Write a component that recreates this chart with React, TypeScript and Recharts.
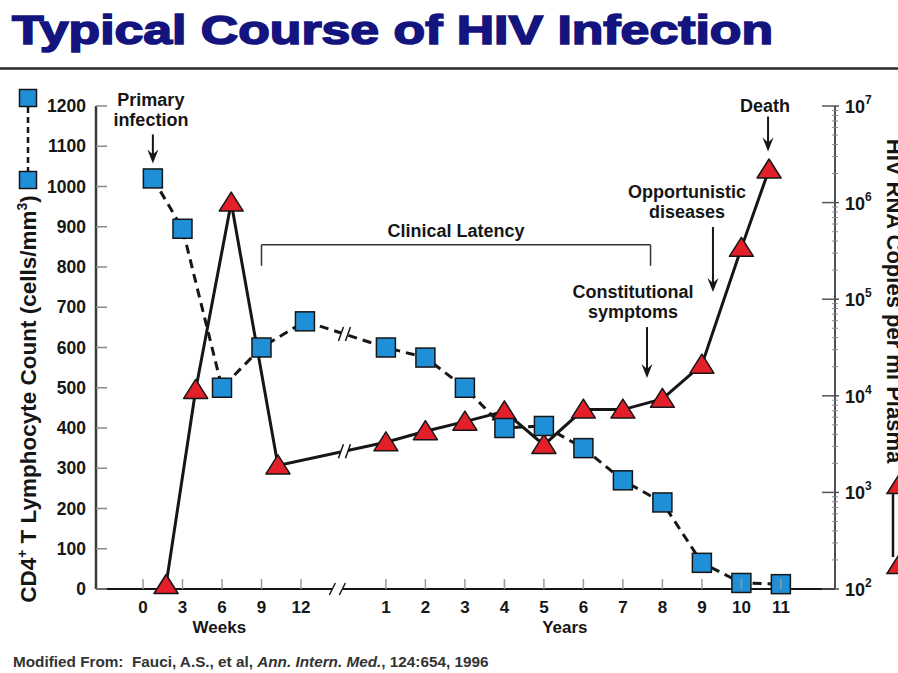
import React from 'react';
import { LineChart, Line, XAxis, YAxis, ReferenceDot, ReferenceLine } from 'recharts';

// tick labels
const weekTicks = [0, 3, 6, 9, 12];
const yearTicks = [1, 2, 3, 4, 5, 6, 7, 8, 9, 10, 11];
const cd4Ticks = [0, 100, 200, 300, 400, 500, 600, 700, 800, 900, 1000, 1100, 1200];
const rnaDecades = [2, 3, 4, 5, 6, 7];

// CD4+ T lymphocyte count (cells/mm3), left axis
const cd4Weeks = [0.75, 3, 6, 9, 12.3];
const cd4WeekValues = [1020, 895, 500, 600, 665];
const cd4Years = [1, 2, 3, 4, 5, 6, 7, 8, 9, 10, 11];
const cd4YearValues = [600, 575, 500, 400, 405, 350, 270, 215, 65, 15, 12];

// HIV RNA copies per ml plasma, right (log) axis
const rnaWeeks = [1.75, 4, 6.7, 10.25];
const rnaWeekValues = [110, 11500, 1000000, 1900];
const rnaYears = [1, 2, 3, 4, 5, 6, 7, 8, 9, 10, 10.7];
const rnaYearValues = [3300, 4300, 5400, 6900, 3100, 7200, 7200, 9300, 21000, 340000, 2200000];

// broken time axis: 3 weeks = 1 unit, then years after a gap
const weekPos = (w: number) => w / 3;
const yearPos = (y: number) => y + 5.15;
const X_MIN = -1.19;
const X_MAX = 17.52;
const LINE_BREAK = 5.1;
const AXIS_BREAK = 4.92;

const FONT = '"Liberation Sans", Arial, Helvetica, sans-serif';
const INK = '#161616';
const BLUE = '#1f8fd8';
const RED = '#e3202a';
const NAVY = '#14147f';

const xTickPos = [...weekTicks.map(weekPos), ...yearTicks.map(yearPos)];
const xTickLabels = [...weekTicks, ...yearTicks].map(String);

const rnaTicks: number[] = [];
rnaDecades.forEach((d, i) => {
  rnaTicks.push(Math.pow(10, d));
  if (i < rnaDecades.length - 1) for (let m = 2; m < 10; m++) rnaTicks.push(m * Math.pow(10, d));
});

const cd4Data = [
  ...cd4Weeks.map((w, i) => ({ x: weekPos(w), y: cd4WeekValues[i] })),
  ...cd4Years.map((y, i) => ({ x: yearPos(y), y: cd4YearValues[i] })),
];
const rnaData = [
  ...rnaWeeks.map((w, i) => ({ x: weekPos(w), y: rnaWeekValues[i] })),
  ...rnaYears.map((y, i) => ({ x: yearPos(y), y: rnaYearValues[i] })),
];

// value of a series where the break mark sits (log interpolation on log axis)
function valueAt(data: { x: number; y: number }[], x: number, log = false) {
  for (let i = 1; i < data.length; i++) {
    const a = data[i - 1];
    const b = data[i];
    if (x >= a.x && x <= b.x) {
      const t = (x - a.x) / (b.x - a.x);
      if (log) return Math.pow(10, Math.log10(a.y) + t * (Math.log10(b.y) - Math.log10(a.y)));
      return a.y + t * (b.y - a.y);
    }
  }
  return data[0].y;
}

const Square = (p: any) =>
  p.cx == null ? (
    <g key={`sq-${p.index}`} />
  ) : (
    <rect key={`sq-${p.index}`} x={p.cx - 9.5} y={p.cy - 9.5} width={19} height={19} fill={BLUE} stroke={INK} strokeWidth={1.5} />
  );

const triPoints = (cx: number, cy: number) => `${cx},${cy - 10.5} ${cx + 12},${cy + 8.5} ${cx - 12},${cy + 8.5}`;

const Triangle = (p: any) =>
  p.cx == null ? (
    <g key={`tr-${p.index}`} />
  ) : (
    <polygon key={`tr-${p.index}`} points={triPoints(p.cx, p.cy)} fill={RED} stroke={INK} strokeWidth={1.5} strokeLinejoin="round" />
  );

const BreakMark = (p: any) => (
  <g>
    <polygon points={`${p.cx - 6},${p.cy + 7} ${p.cx - 1},${p.cy - 7} ${p.cx + 6},${p.cy - 7} ${p.cx + 1},${p.cy + 7}`} fill="#fff" />
    <line x1={p.cx - 6} y1={p.cy + 7} x2={p.cx - 1} y2={p.cy - 7} stroke={INK} strokeWidth={1.5} />
    <line x1={p.cx + 1} y1={p.cy + 7} x2={p.cx + 6} y2={p.cy - 7} stroke={INK} strokeWidth={1.5} />
  </g>
);

const AxisBreak = (p: any) => (
  <g>
    <line x1={p.cx - 8} y1={p.cy + 6} x2={p.cx - 2} y2={p.cy - 6} stroke={INK} strokeWidth={1.5} />
    <line x1={p.cx + 2} y1={p.cy + 6} x2={p.cx + 8} y2={p.cy - 6} stroke={INK} strokeWidth={1.5} />
  </g>
);

function Arrow({ x, y1, y2 }: { x: number; y1: number; y2: number }) {
  return (
    <g>
      <line x1={x} y1={y1} x2={x} y2={y2 - 8} stroke={INK} strokeWidth={2} />
      <polygon points={`${x - 5.5},${y2 - 14} ${x},${y2 - 9} ${x + 5.5},${y2 - 14} ${x},${y2}`} fill={INK} />
    </g>
  );
}

const note =
  (lines: string[], dx: number, dy: number, arrowDx: number, arrowTop: number, arrowTip: number) => (p: any) => (
    <g>
      <text x={p.cx + dx} y={p.cy + dy} textAnchor="middle" fontFamily={FONT} fontWeight="bold" fontSize={18} fill={INK}>
        {lines.map((l, i) => (
          <tspan key={i} x={p.cx + dx} dy={i === 0 ? 0 : 20}>
            {l}
          </tspan>
        ))}
      </text>
      <Arrow x={p.cx + arrowDx} y1={p.cy + arrowTop} y2={p.cy + arrowTip} />
    </g>
  );

const LatencyLabel = (p: any) => (
  <text x={p.cx} y={p.cy - 8} textAnchor="middle" fontFamily={FONT} fontWeight="bold" fontSize={18} fill={INK}>
    Clinical Latency
  </text>
);

const AxisWord = (word: string) => (p: any) => (
  <text x={p.cx} y={p.cy + 44} textAnchor="middle" fontFamily={FONT} fontWeight="bold" fontSize={17} fill={INK}>
    {word}
  </text>
);

function XTick(p: any) {
  const i = xTickPos.findIndex((v) => Math.abs(v - p.payload.value) < 1e-6);
  return (
    <g>
      <line x1={p.x} x2={p.x} y1={p.y - 10} y2={p.y} stroke="#9a9a9a" strokeWidth={1.5} />
      <text x={p.x} y={p.y + 24} textAnchor="middle" fontFamily={FONT} fontWeight="bold" fontSize={17} fill={INK}>
        {i >= 0 ? xTickLabels[i] : ''}
      </text>
    </g>
  );
}

function Cd4Tick(p: any) {
  return (
    <g>
      <line x1={p.x} x2={p.x + 11} y1={p.y} y2={p.y} stroke="#8a8a8a" strokeWidth={1.5} />
      <text x={p.x - 10} y={p.y + 6} textAnchor="end" fontFamily={FONT} fontWeight="bold" fontSize={17.5} fill={INK}>
        {p.payload.value}
      </text>
    </g>
  );
}

function RnaTick(p: any) {
  const lg = Math.log10(p.payload.value);
  const exp = Math.round(lg);
  if (Math.abs(lg - exp) > 1e-6) {
    return <line x1={p.x - 3} x2={p.x + 3} y1={p.y} y2={p.y} stroke="#8a8a8a" strokeWidth={1} />;
  }
  return (
    <g>
      <line x1={p.x - 13} x2={p.x + 4} y1={p.y} y2={p.y} stroke="#555" strokeWidth={1.5} />
      <text x={p.x + 10} y={p.y + 7} fontFamily={FONT} fontWeight="bold" fontSize={18} fill={INK}>
        10
        <tspan dy={-9} fontSize={12}>
          {exp}
        </tspan>
      </text>
    </g>
  );
}

const bracketLeft = weekPos(9);
const bracketRight = yearPos(7.7);

export default function App() {
  return (
    <div style={{ position: 'absolute', left: 0, top: 0, width: 898, height: 673, background: '#fff', overflow: 'hidden' }}>
      <LineChart width={898} height={673} margin={{ top: 106, right: 0, bottom: 0, left: 0 }}>
        <XAxis
          type="number"
          dataKey="x"
          domain={[X_MIN, X_MAX]}
          ticks={xTickPos}
          interval={0}
          tickSize={0}
          tickMargin={0}
          height={84}
          axisLine={false}
          tickLine={false}
          tick={XTick}
        />
        <YAxis
          yAxisId="left"
          orientation="left"
          width={96}
          domain={[0, 1200]}
          ticks={cd4Ticks}
          interval={0}
          tickSize={0}
          tickMargin={0}
          tickLine={false}
          axisLine={{ stroke: '#3a3a3a', strokeWidth: 2.5 }}
          tick={Cd4Tick}
        />
        <YAxis
          yAxisId="right"
          orientation="right"
          width={63}
          scale="log"
          type="number"
          domain={[100, 10000000]}
          ticks={rnaTicks}
          interval={0}
          tickSize={0}
          tickMargin={0}
          tickLine={false}
          axisLine={{ stroke: INK, strokeWidth: 1.5 }}
          tick={RnaTick}
        />

        {/* time axis with a break between weeks and years */}
        <ReferenceLine
          yAxisId="left"
          segment={[{ x: X_MIN, y: 0 }, { x: AXIS_BREAK - 0.13, y: 0 }]}
          stroke={INK}
          strokeWidth={2}
          ifOverflow="visible"
        />
        <ReferenceLine
          yAxisId="left"
          segment={[{ x: AXIS_BREAK + 0.13, y: 0 }, { x: X_MAX, y: 0 }]}
          stroke={INK}
          strokeWidth={2}
          ifOverflow="visible"
        />
        <ReferenceDot yAxisId="left" x={AXIS_BREAK} y={0} r={0} shape={AxisBreak} ifOverflow="visible" />
        <ReferenceDot yAxisId="left" x={weekPos(5.8)} y={0} r={0} shape={AxisWord('Weeks')} ifOverflow="visible" />
        <ReferenceDot yAxisId="left" x={yearPos(5.53)} y={0} r={0} shape={AxisWord('Years')} ifOverflow="visible" />

        {/* clinical latency bracket */}
        <ReferenceLine yAxisId="left" segment={[{ x: bracketLeft, y: 855 }, { x: bracketRight, y: 855 }]} stroke="#333" strokeWidth={1.5} />
        <ReferenceLine yAxisId="left" segment={[{ x: bracketLeft, y: 855 }, { x: bracketLeft, y: 803 }]} stroke="#333" strokeWidth={1.5} />
        <ReferenceLine yAxisId="left" segment={[{ x: bracketRight, y: 855 }, { x: bracketRight, y: 803 }]} stroke="#333" strokeWidth={1.5} />
        <ReferenceDot yAxisId="left" x={(bracketLeft + bracketRight) / 2} y={855} r={0} shape={LatencyLabel} />

        <Line
          yAxisId="right"
          data={rnaData}
          dataKey="y"
          stroke={INK}
          strokeWidth={3}
          dot={Triangle}
          activeDot={false}
          isAnimationActive={false}
        />
        <Line
          yAxisId="left"
          data={cd4Data}
          dataKey="y"
          stroke={INK}
          strokeWidth={3}
          strokeDasharray="9 6"
          dot={Square}
          activeDot={false}
          isAnimationActive={false}
        />

        <ReferenceDot yAxisId="left" x={LINE_BREAK} y={valueAt(cd4Data, LINE_BREAK)} r={0} shape={BreakMark} />
        <ReferenceDot yAxisId="right" x={LINE_BREAK} y={valueAt(rnaData, LINE_BREAK, true)} r={0} shape={BreakMark} />

        {/* annotations */}
        <ReferenceDot
          yAxisId="left"
          x={cd4Data[0].x}
          y={cd4Data[0].y}
          r={0}
          shape={note(['Primary', 'infection'], -2, -72, 0, -44, -15)}
        />
        <ReferenceDot
          yAxisId="right"
          x={rnaData[rnaData.length - 1].x}
          y={rnaData[rnaData.length - 1].y}
          r={0}
          shape={note(['Death'], -4, -58, -1, -53, -18)}
        />
        <ReferenceDot yAxisId="left" x={yearPos(9.28)} y={738} r={0} shape={note(['Opportunistic', 'diseases'], -26, -94, 0, -65, 0)} />
        <ReferenceDot yAxisId="left" x={yearPos(7.61)} y={524} r={0} shape={note(['Constitutional', 'symptoms'], -14, -80, 0, -51, 0)} />
      </LineChart>

      <svg width={898} height={673} style={{ position: 'absolute', left: 0, top: 0, pointerEvents: 'none' }}>
        <text
          x={12}
          y={44}
          fontFamily={FONT}
          fontWeight="bold"
          fontSize={40}
          fill={NAVY}
          stroke={NAVY}
          strokeWidth={1.6}
          textLength={761}
          lengthAdjust="spacingAndGlyphs"
        >
          Typical Course of HIV Infection
        </text>
        <line x1={0} x2={898} y1={68.5} y2={68.5} stroke="#2a2a2a" strokeWidth={2.5} />

        {/* left legend + axis title */}
        <line x1={28} x2={28} y1={107} y2={171} stroke={INK} strokeWidth={2.5} strokeDasharray="6 4" />
        <rect x={19.5} y={89.5} width={17} height={17} fill={BLUE} stroke={INK} strokeWidth={1.5} />
        <rect x={19.5} y={171.5} width={17} height={17} fill={BLUE} stroke={INK} strokeWidth={1.5} />
        <text transform="translate(36, 399) rotate(-90)" textAnchor="middle" fontFamily={FONT} fontWeight="bold" fontSize={22.5} fill={INK}>
          CD4
          <tspan dy={-9} fontSize={14}>
            +
          </tspan>
          <tspan dy={9}> T Lymphocyte Count (cells/mm</tspan>
          <tspan dy={-9} fontSize={14}>
            3
          </tspan>
          <tspan dy={9}>)</tspan>
        </text>

        {/* right axis title + legend */}
        <text transform="translate(887, 301) rotate(90)" textAnchor="middle" fontFamily={FONT} fontWeight="bold" fontSize={22} fill={INK}>
          HIV RNA Copies per ml Plasma
        </text>
        <line x1={893} x2={893} y1={493} y2={557} stroke={INK} strokeWidth={2.5} />
        <polygon points={triPoints(899, 485)} fill={RED} stroke={INK} strokeWidth={1.5} />
        <polygon points={triPoints(899, 565)} fill={RED} stroke={INK} strokeWidth={1.5} />

        <text x={13} y={667} fontFamily={FONT} fontWeight="bold" fontSize={15.3} fill="#333" style={{ whiteSpace: 'pre' }}>
          {'Modified From:  Fauci, A.S., et al, '}
          <tspan fontStyle="italic">Ann. Intern. Med.</tspan>
          {', 124:654, 1996'}
        </text>
      </svg>
    </div>
  );
}
